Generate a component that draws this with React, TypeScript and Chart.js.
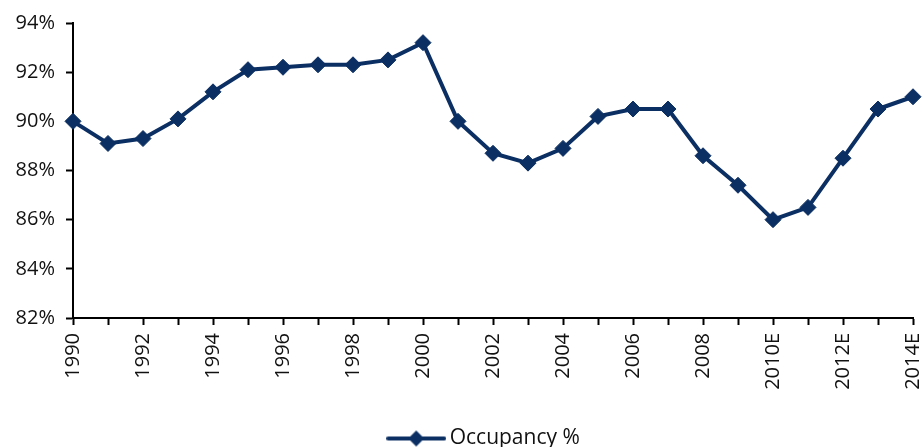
import React, { useEffect, useRef } from "react";
import { Chart, registerables } from "chart.js";

Chart.register(...registerables);

const years = [
  "1990", "1991", "1992", "1993", "1994", "1995", "1996", "1997", "1998", "1999",
  "2000", "2001", "2002", "2003", "2004", "2005", "2006", "2007", "2008", "2009",
  "2010E", "2011E", "2012E", "2013E", "2014E",
];
const occupancy = [
  90.0, 89.1, 89.3, 90.1, 91.2, 92.1, 92.2, 92.3, 92.3, 92.5,
  93.2, 90.0, 88.7, 88.3, 88.9, 90.2, 90.5, 90.5, 88.6, 87.4,
  86.0, 86.5, 88.5, 90.5, 91.0,
];
const seriesLabel = "Occupancy %";
const yMin = 82;
const yMax = 94;
const yStep = 2;

const NAVY = "#0b2f63";
const FONT = "'Open Sans', 'Noto Sans', sans-serif";
const FS = 20;

function legendSymbol(): HTMLCanvasElement {
  const c = document.createElement("canvas");
  c.width = 60;
  c.height = 20;
  const ctx = c.getContext("2d")!;
  ctx.strokeStyle = NAVY;
  ctx.lineWidth = 4;
  ctx.lineCap = "round";
  ctx.beginPath();
  ctx.moveTo(2, 10);
  ctx.lineTo(58, 10);
  ctx.stroke();
  ctx.fillStyle = NAVY;
  ctx.beginPath();
  ctx.moveTo(30, 2);
  ctx.lineTo(38, 10);
  ctx.lineTo(30, 18);
  ctx.lineTo(22, 10);
  ctx.closePath();
  ctx.fill();
  return c;
}

const shiftLegend = {
  id: "shiftLegend",
  afterLayout(chart: any) {
    const lg = chart.legend;
    if (lg) {
      lg.left += 48;
      lg.right += 2;
    }
  },
};

export default function App() {
  const ref = useRef<HTMLCanvasElement | null>(null);
  useEffect(() => {
    document.body.style.margin = "0";
    const sym = legendSymbol();
    const chart = new Chart(ref.current!, {
      type: "line",
      data: {
        labels: years,
        datasets: [
          {
            label: seriesLabel,
            data: occupancy,
            borderColor: NAVY,
            backgroundColor: NAVY,
            borderWidth: 4,
            pointStyle: "rectRot",
            pointRadius: 8,
            pointBorderWidth: 1,
            pointBackgroundColor: NAVY,
            pointBorderColor: NAVY,
            tension: 0,
          },
        ],
      },
      plugins: [shiftLegend],
      options: {
        responsive: false,
        animation: false,
        layout: { padding: { top: 21, right: 0, left: 0, bottom: -12 } },
        plugins: {
          tooltip: { enabled: false },
          legend: {
            position: "bottom",
            labels: {
              usePointStyle: true,
              pointStyleWidth: 46,
              color: "#111",
              font: { family: FONT, size: 21 },
              padding: 0,
              generateLabels: (ch: any) =>
                ch.data.datasets.map((ds: any, i: number) => ({
                  text: ds.label,
                  pointStyle: sym,
                  fillStyle: NAVY,
                  strokeStyle: NAVY,
                  lineWidth: 0,
                  datasetIndex: i,
                  fontColor: "#111",
                })),
            },
          },
        },
        scales: {
          x: {
            offset: false,
            border: { color: "#000", width: 2 },
            grid: {
              display: true,
              drawOnChartArea: false,
              drawTicks: true,
              tickLength: 7,
              tickWidth: 2,
              color: "#000",
            },
            ticks: {
              autoSkip: false,
              maxRotation: 90,
              minRotation: 90,
              color: "#111",
              font: { family: FONT, size: FS },
              padding: 8,
              callback: (_v: any, i: number) => (i % 2 === 0 ? years[i] : ""),
            },
            afterFit: (s: any) => {
              s.height = 110;
              s.paddingRight = 10;
              s.paddingLeft = 0;
            },
          },
          y: {
            min: yMin,
            max: yMax,
            border: { color: "#000", width: 2 },
            grid: {
              display: true,
              drawOnChartArea: false,
              drawTicks: true,
              tickLength: 7,
              tickWidth: 2,
              color: "#000",
            },
            ticks: {
              stepSize: yStep,
              color: "#111",
              font: { family: FONT, size: FS },
              padding: 11,
              callback: (v: any) => `${v}%`,
            },
            afterFit: (s: any) => {
              s.width = 73;
            },
          },
        },
      },
    });
    return () => chart.destroy();
  }, []);
  return <canvas ref={ref} width={923} height={447} style={{ display: "block" }} />;
}
